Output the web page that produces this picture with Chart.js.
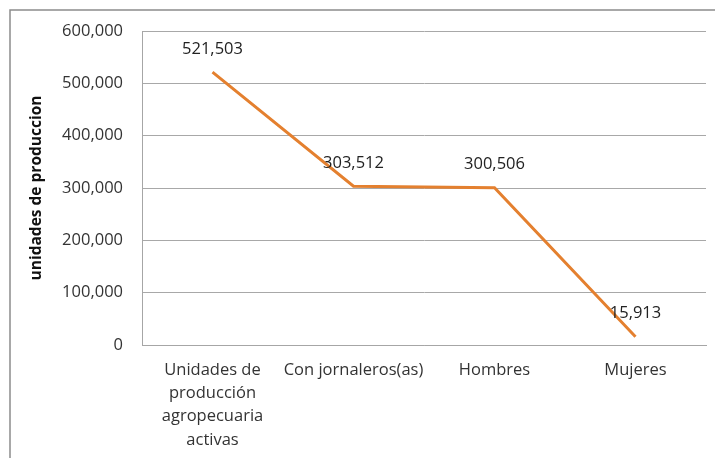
<!DOCTYPE html>
<html>
<head>
<meta charset="utf-8">
<script src="https://cdn.jsdelivr.net/npm/chart.js@4"></script>
<style>
  body { margin: 0; background: #fff; }
  #wrap { width: 715px; height: 458px; position: relative; }
</style>
</head>
<body>
<div id="wrap"><canvas id="chartId" width="715" height="458"></canvas></div>
<script>
// categories and values
var categorias = [
	['Unidades de', 'producción', 'agropecuaria', 'activas'],
	'Con jornaleros(as)',
	'Hombres',
	'Mujeres'
];
var unidades = [521503, 303512, 300506, 15913];
var yMin = 0;
var yMax = 600000;
var yStep = 100000;

var fuente = "'Open Sans', sans-serif";

// outer frame like the excel chart border
var marco = {
	id: 'marco',
	beforeDraw: function (chart) {
		var ctx = chart.ctx;
		ctx.save();
		ctx.strokeStyle = '#8c8c8c';
		ctx.lineWidth = 1.5;
		ctx.beginPath();
		ctx.moveTo(10, 458);
		ctx.lineTo(10, 10);
		ctx.lineTo(715, 10);
		ctx.stroke();
		ctx.restore();
	}
};

// value labels above each point
var etiquetas = {
	id: 'etiquetas',
	afterDatasetsDraw: function (chart) {
		var ctx = chart.ctx;
		var meta = chart.getDatasetMeta(0);
		ctx.save();
		ctx.font = '16.5px ' + fuente;
		ctx.fillStyle = '#222';
		ctx.textAlign = 'center';
		ctx.textBaseline = 'middle';
		meta.data.forEach(function (pt, i) {
			ctx.fillText(unidades[i].toLocaleString('en-US'), pt.x, pt.y - 23);
		});
		ctx.restore();
	}
};

var chrt = document.getElementById('chartId').getContext('2d');
var chartId = new Chart(chrt, {
	type: 'line',
	data: {
		labels: categorias,
		datasets: [{
			data: unidades,
			borderColor: '#E4802F',
			borderWidth: 3,
			pointRadius: 0,
			tension: 0,
			fill: false
		}]
	},
	options: {
		responsive: false,
		animation: false,
		layout: { padding: { left: 0, top: 31, right: 9, bottom: 0 } },
		plugins: {
			legend: { display: false },
			tooltip: { enabled: false }
		},
		scales: {
			x: {
				offset: true,
				grid: { display: false, drawTicks: false },
				border: { display: true, color: '#a6a6a6', width: 1 },
				ticks: {
					color: '#333',
					font: { family: fuente, size: 16.5, lineHeight: 1.4 },
					padding: 14,
					maxRotation: 0,
					autoSkip: false
				},
				afterFit: function (scale) { scale.height = 113; }
			},
			y: {
				min: yMin,
				max: yMax,
				grid: { color: '#a8a8a8', drawTicks: false },
				border: { display: true, color: '#a6a6a6', width: 1 },
				ticks: {
					stepSize: yStep,
					color: '#333',
					padding: 19,
					font: { family: fuente, size: 16.5 },
					callback: function (v) { return v.toLocaleString('en-US'); }
				},
				title: {
					display: true,
					text: 'unidades de produccion',
					color: '#111',
					font: { family: fuente, size: 15.5, weight: 'bold' },
					padding: { top: 27, bottom: 0 }
				},
				afterFit: function (scale) { scale.width = 142; }
			}
		}
	},
	plugins: [marco, etiquetas]
});
</script>
</body>
</html>
